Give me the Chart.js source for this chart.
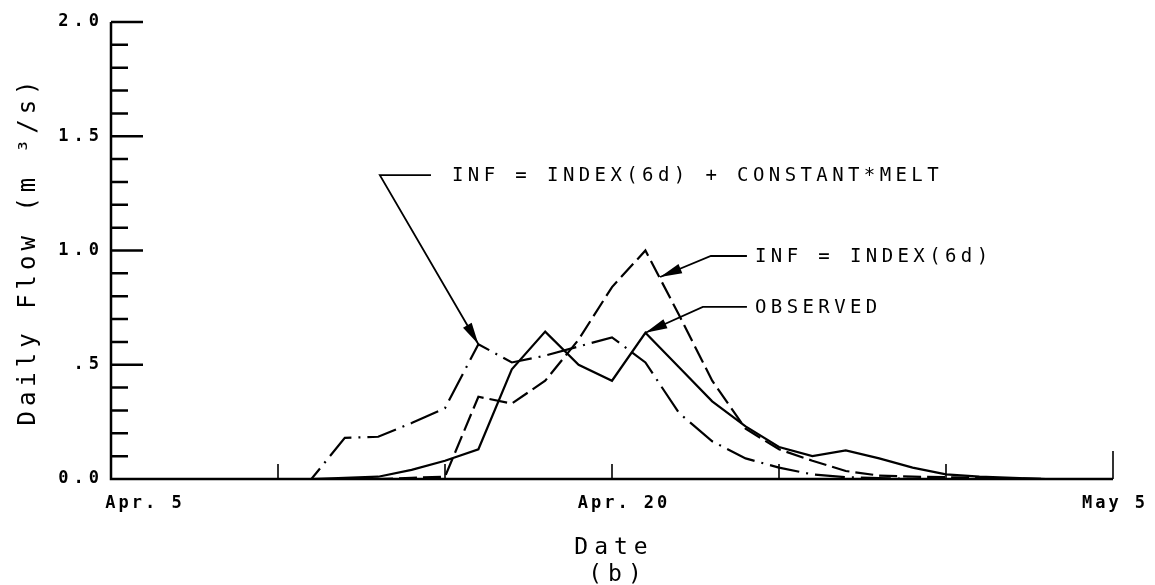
<!DOCTYPE html>
<html>
<head>
<meta charset="utf-8">
<script src="https://cdn.jsdelivr.net/npm/chart.js@4.4.1/dist/chart.umd.min.js"></script>
<style>
  html, body { margin: 0; padding: 0; background: #fff; }
</style>
</head>
<body>
<canvas id="flowChart" width="1155" height="585"></canvas>
<script>
// days after Apr. 5
var days = [0, 1, 2, 3, 4, 5, 6, 7, 8, 9, 10, 11, 12, 13, 14, 15, 16, 17, 18, 19, 20, 21, 22, 23, 24, 25, 26, 27, 28, 29, 30];

// daily flow, m3/s
var observed = [0, 0, 0, 0, 0, 0, 0, 0.005, 0.01, 0.04, 0.08, 0.13, 0.48, 0.645, 0.50, 0.43, 0.64, 0.49, 0.34, 0.23, 0.14, 0.10, 0.125, 0.09, 0.05, 0.02, 0.01, 0.005, 0, 0, 0];
var infIndex = [0, 0, 0, 0, 0, 0, 0, 0, 0, 0.005, 0.01, 0.36, 0.33, 0.43, 0.61, 0.84, 1.0, 0.72, 0.43, 0.22, 0.13, 0.08, 0.035, 0.015, 0.01, 0.008, 0.005, 0.003, 0, 0, 0];
var infIndexMelt = [0, 0, 0, 0, 0, 0, 0, 0.18, 0.185, 0.245, 0.31, 0.59, 0.51, 0.54, 0.58, 0.62, 0.51, 0.29, 0.165, 0.09, 0.05, 0.02, 0.008, 0.004, 0, 0, 0, 0, 0, 0, 0];

var yTickValues = [0, 0.5, 1, 1.5, 2];
var yTickLabels = ['0.0', '.5', '1.0', '1.5', '2.0'];
var xTickDays = [0, 15, 30];
var xTickLabels = ['Apr. 5', 'Apr. 20', 'May 5'];

// callouts: arrow tip, elbow, end of horizontal leader, start of text (day, flow)
var notes = [
  { text: 'INF = INDEX(6d) + CONSTANT*MELT', tip: [11, 0.59], elbow: [8.05, 1.33], lineEnd: 9.58, textAt: 10.21 },
  { text: 'INF = INDEX(6d)', tip: [16.44, 0.884], elbow: [17.96, 0.976], lineEnd: 19.04, textAt: 19.28 },
  { text: 'OBSERVED', tip: [16, 0.64], elbow: [17.72, 0.753], lineEnd: 19.04, textAt: 19.28 }
];

var mono = '"DejaVu Sans Mono", "Liberation Mono", monospace';

function pairs(vals) {
  return days.map(function (d, i) { return { x: d, y: vals[i] }; });
}

var plotterAxes = {
  id: 'plotterAxes',
  beforeDraw: function (chart) {
    chart.ctx.letterSpacing = '5px';
  },
  afterDraw: function (chart) {
    var ctx = chart.ctx;
    var xs = chart.scales.x, ys = chart.scales.y;
    var left = xs.getPixelForValue(0), right = xs.getPixelForValue(30);
    var bottom = ys.getPixelForValue(0), top = ys.getPixelForValue(2);

    ctx.save();
    ctx.strokeStyle = '#000';
    ctx.fillStyle = '#000';

    // axes + inward ticks
    ctx.lineWidth = 2.5;
    ctx.beginPath();
    ctx.moveTo(left, top);
    ctx.lineTo(left, bottom);
    ctx.lineTo(right, bottom);
    ys.ticks.forEach(function (t) {
      var py = ys.getPixelForValue(t.value);
      var major = Math.round(t.value * 10) % 5 === 0;
      ctx.moveTo(left, py);
      ctx.lineTo(left + (major ? 32 : 17), py);
    });
    ctx.stroke();

    ctx.lineWidth = 1.6;
    ctx.beginPath();
    xs.ticks.forEach(function (t) {
      if (t.value <= 0) return;
      var px = xs.getPixelForValue(t.value);
      ctx.moveTo(px, bottom);
      ctx.lineTo(px, bottom - (t.value >= 30 ? 28 : 15));
    });
    ctx.stroke();

    // x labels and title
    ctx.textBaseline = 'middle';
    ctx.textAlign = 'center';
    ctx.font = 'bold 17px ' + mono;
    ctx.letterSpacing = '3px';
    var shift = [34, 12, 2];
    xTickDays.forEach(function (d, i) {
      ctx.fillText(xTickLabels[i], xs.getPixelForValue(d) + shift[i], bottom + 25);
    });
    ctx.font = '23px ' + mono;
    ctx.letterSpacing = '6px';
    var mid = (left + right) / 2;
    ctx.fillText('Date', mid + 2, bottom + 69);
    ctx.fillText('(b)', mid + 6, bottom + 96);

    // callouts
    ctx.lineWidth = 1.8;
    ctx.font = '19px ' + mono;
    ctx.letterSpacing = '4.4px';
    ctx.textAlign = 'left';
    notes.forEach(function (n) {
      var tx = xs.getPixelForValue(n.tip[0]), ty = ys.getPixelForValue(n.tip[1]);
      var ex = xs.getPixelForValue(n.elbow[0]), ey = ys.getPixelForValue(n.elbow[1]);
      var lx = xs.getPixelForValue(n.lineEnd);
      ctx.beginPath();
      ctx.moveTo(lx, ey);
      ctx.lineTo(ex, ey);
      ctx.lineTo(tx, ty);
      ctx.stroke();
      var ang = Math.atan2(ty - ey, tx - ex);
      var len = 22, hw = 5;
      var bx = tx - len * Math.cos(ang), by = ty - len * Math.sin(ang);
      ctx.beginPath();
      ctx.moveTo(tx, ty);
      ctx.lineTo(bx + hw * Math.sin(ang), by - hw * Math.cos(ang));
      ctx.lineTo(bx - hw * Math.sin(ang), by + hw * Math.cos(ang));
      ctx.closePath();
      ctx.fill();
      ctx.fillText(n.text, xs.getPixelForValue(n.textAt), ey + 1);
    });
    ctx.restore();
  }
};

var ctx = document.getElementById('flowChart').getContext('2d');
var flowChart = new Chart(ctx, {
  type: 'line',
  data: {
    datasets: [{
      label: 'OBSERVED',
      data: pairs(observed),
      borderColor: '#000',
      borderWidth: 2.2,
      pointRadius: 0,
      tension: 0
    }, {
      label: 'INF = INDEX(6d)',
      data: pairs(infIndex),
      borderColor: '#000',
      borderWidth: 2.2,
      borderDash: [18, 6],
      pointRadius: 0,
      tension: 0
    }, {
      label: 'INF = INDEX(6d) + CONSTANT*MELT',
      data: pairs(infIndexMelt),
      borderColor: '#000',
      borderWidth: 2.2,
      borderDash: [30, 7, 2, 7],
      pointRadius: 0,
      tension: 0
    }]
  },
  options: {
    responsive: false,
    animation: false,
    layout: {
      padding: { top: 22, right: 42, left: 0, bottom: 0 }
    },
    plugins: {
      legend: { display: false },
      tooltip: { enabled: false }
    },
    scales: {
      x: {
        type: 'linear',
        min: 0,
        max: 30,
        grid: { display: false, drawTicks: false },
        border: { display: false },
        ticks: { display: false, stepSize: 5 },
        afterFit: function (scale) { scale.height = 106; }
      },
      y: {
        min: 0,
        max: 2,
        grid: { display: false, drawTicks: false },
        border: { display: false },
        ticks: {
          stepSize: 0.1,
          autoSkip: false,
          padding: 7,
          color: '#000',
          font: { family: mono, size: 17, weight: 'bold' },
          callback: function (value) {
            var i = yTickValues.findIndex(function (v) { return Math.abs(v - value) < 1e-6; });
            return i >= 0 ? yTickLabels[i] : '';
          }
        },
        title: {
          display: true,
          text: 'Daily Flow (m ³/s)',
          color: '#000',
          font: { family: mono, size: 24 },
          padding: { top: 14, bottom: 0 }
        },
        afterFit: function (scale) { scale.width = 111; }
      }
    }
  },
  plugins: [plotterAxes]
});
</script>
</body>
</html>
